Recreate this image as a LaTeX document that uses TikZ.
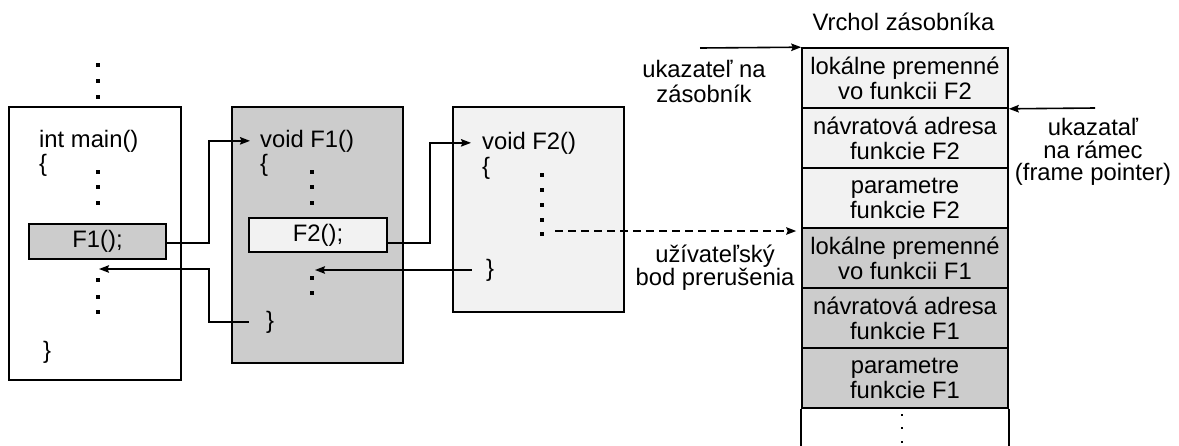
\documentclass[tikz,border=0pt]{standalone}
\usepackage{fontspec}
\setmainfont{Liberation Sans}
\usetikzlibrary{arrows.meta}
\definecolor{midgray}{HTML}{CCCCCC}
\definecolor{palegray}{HTML}{F2F2F2}

\begin{document}
\begin{tikzpicture}[x=1pt,y=-1pt,
  every node/.style={font=\fontsize{23.8}{25}\selectfont},
  frame/.style={draw, line width=1.6pt, inner sep=0pt},
  code/.style={anchor=base west, inner sep=0pt},
  brace/.style={inner sep=0pt},
  label/.style={align=center, inner sep=0pt},
  cell/.style={draw, line width=1.6pt, minimum width=206pt, minimum height=60pt,
               inner sep=0pt, align=center},
  arr/.style={line width=1.6pt, -{Stealth[length=10pt,width=7.5pt,inset=1.5pt]}},
  wire/.style={line width=1.6pt},
]
\useasboundingbox (0,0) rectangle (1179,445);

% ---- function frames ----
\node[frame, fill=white,    minimum width=172pt, minimum height=273pt] (mainbox) at (95,243.5) {};
\node[frame, fill=midgray,  minimum width=171pt, minimum height=256pt] (f1box)   at (317.5,235) {};
\node[frame, fill=palegray, minimum width=171pt, minimum height=205pt] (f2box)   at (538.5,209.5) {};

% ---- call statements ----
\node[frame, fill=midgray,  minimum width=137pt, minimum height=35pt] (f1call) at (97.5,241.5) {F1();};
\node[frame, fill=palegray, minimum width=138pt, minimum height=34pt] (f2call) at (318,235) {F2();};

% ---- code text ----
\node[code]  (intmain) at (39,147)  {int main()};
\node[brace] (lb0)     at (43,165)  {\{};
\node[brace] (rb0)     at (47,352)  {\}};
\node[code]  (v1)      at (260,147) {void F1()};
\node[brace] (lb1)     at (264,165) {\{};
\node[brace] (rb1)     at (270,322) {\}};
\node[code]  (v2)      at (482,149) {void F2()};
\node[brace] (lb2)     at (486,168) {\{};
\node[brace] (rb2)     at (490,270) {\}};

% ---- elided code (dots) ----
\foreach \x/\y in {98/65,98/81,98/97, 98/172,98/187,98/203, 98/280,98/297,98/312,
                   312/172,312/187,312/203, 312/278,312/293,
                   542/175,542/190,542/205,542/220,542/234}
  \fill (\x-1.8,\y-1.8) rectangle ++(3.6,3.6);

% ---- stack ----
\node[cell, fill=palegray] (s1) at (905,78)  {lokálne premenné\\vo funkcii F2};
\node[cell, fill=palegray] (s2) at (905,138) {návratová adresa\\funkcie F2};
\node[cell, fill=palegray] (s3) at (905,198) {parametre\\funkcie F2};
\node[cell, fill=midgray]  (s4) at (905,258) {lokálne premenné\\vo funkcii F1};
\node[cell, fill=midgray]  (s5) at (905,318) {návratová adresa\\funkcie F1};
\node[cell, fill=midgray]  (s6) at (905,378) {parametre\\funkcie F1};
\draw[wire] (s6.south west) -- ++(0,40);
\draw[wire] (s6.south east) -- ++(0,40);
\foreach \y in {415,428,442}
  \fill (902-1.3,\y-1.3) rectangle ++(2.6,2.6);

% ---- labels ----
\node[anchor=base, inner sep=0pt] (top) at (903.5,30) {Vrchol zásobníka};
\node[label] (sptext) at (704,81) {ukazateľ na\\zásobník};
\node[label, font=\fontsize{23.8}{23}\selectfont] (bptext) at (715,268) {užívateľský\\bod prerušenia};
\node[label, font=\fontsize{23.8}{22.5}\selectfont] (fptext) at (1093,152) {ukazataľ\\na rámec\\(frame pointer)};

% ---- connector ends ----
\coordinate (ret1) at (99,269);
\coordinate (ret2) at (315,268);
\coordinate (brk)  at (555,231);
\coordinate (spsrc) at (700,48);
\coordinate (fpsrc) at (1095,108);

% ---- calls and returns ----
\draw[arr] ([yshift=-1.5pt]f1call.east) -- ++(42,0) |- ([xshift=-10pt]v1.west);
\draw[arr] ([yshift=-8pt]f2call.east) -- ++(42,0) |- ([xshift=-11pt]v2.west);
\draw[arr] ([xshift=-17pt]rb1.west) -- ++(-40,0) |- (ret1);
\draw[arr] ([xshift=-14pt]rb2.west) -- (ret2 |- rb2.west);

% ---- breakpoint and stack pointers ----
\draw[arr, dash pattern=on 8pt off 5pt] (brk) -- ([xshift=-5pt]brk -| s4.west);
\draw[arr] (spsrc) -- (s1.north west);
\draw[arr] (fpsrc) -- (s1.south east);
\end{tikzpicture}
\end{document}
